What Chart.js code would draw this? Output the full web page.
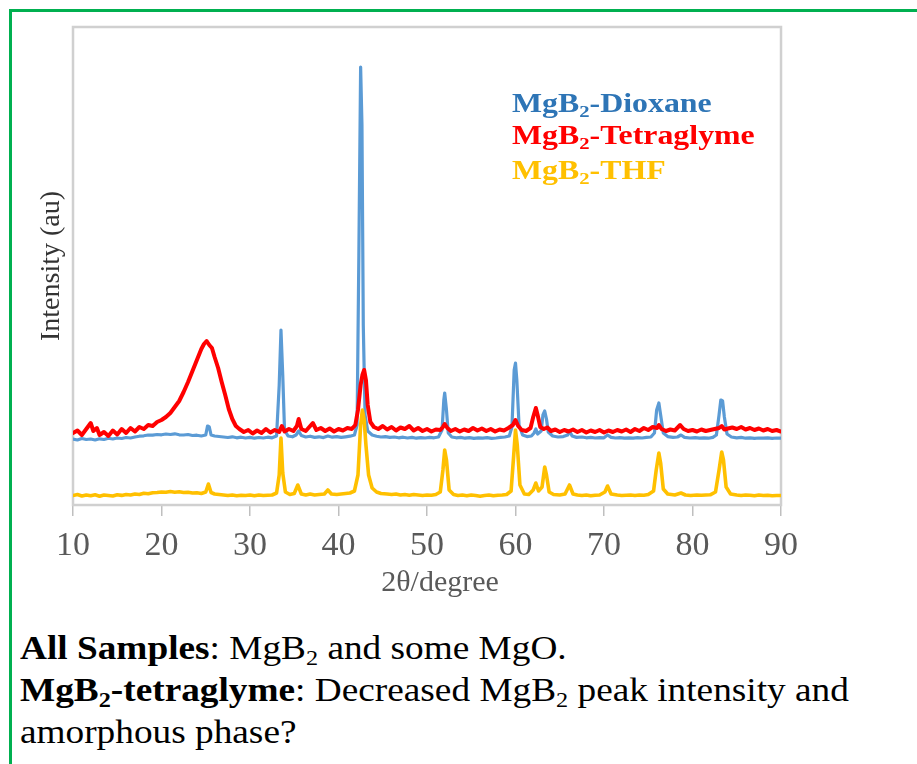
<!DOCTYPE html>
<html>
<head>
<meta charset="utf-8">
<script src="https://cdn.jsdelivr.net/npm/chart.js@4.4.1/dist/chart.umd.min.js"></script>
<style>
  html, body { margin: 0; padding: 0; background: #fff; width: 917px; height: 764px; overflow: hidden; }
  #frame { position: absolute; left: 9px; top: 9px; width: 940px; height: 800px; border: 3px solid #00b050; box-sizing: border-box; }
  #wrap { position: absolute; left: 0; top: 0; width: 917px; height: 620px; }
  .legend { position: absolute; left: 512px; font: bold 27px "Liberation Serif", serif; line-height: 33px; white-space: nowrap; transform-origin: 0 0; transform: scaleX(1.18); }
  .note { position: absolute; left: 20px; font: 33px "Liberation Serif", serif; line-height: 40px; white-space: nowrap; color: #000; transform-origin: 0 0; transform: scaleX(1.13); }
  sub { font-size: 0.65em; vertical-align: -0.3em; line-height: 0; }
</style>
</head>
<body>
<div id="frame"></div>
<div id="wrap"><canvas id="xrd" width="917" height="620"></canvas></div>

<div class="legend" style="top:87px;color:#2e75b6">MgB<sub>2</sub>-Dioxane</div>
<div class="legend" style="top:119px;color:#ff0000">MgB<sub>2</sub>-Tetraglyme</div>
<div class="legend" style="top:154px;color:#ffc000">MgB<sub>2</sub>-THF</div>

<div class="note" style="top:628px"><b>All Samples</b>: MgB<sub>2</sub> and some MgO.</div>
<div class="note" style="top:670px"><b>MgB<sub>2</sub>-tetraglyme</b>: Decreased MgB<sub>2</sub> peak intensity and</div>
<div class="note" style="top:712px">amorphous phase?</div>

<script>
// X-ray diffraction patterns of MgB2 samples prepared in three solvents (offset traces, arbitrary units)
const xTicks = [10, 20, 30, 40, 50, 60, 70, 80, 90];

const dioxaneTheta = [
  10, 10.5, 11, 11.5, 12, 12.5, 13, 13.5, 14, 14.5, 15, 15.5, 16, 16.5, 17, 17.5, 18, 18.5, 19, 19.5,
  20, 20.5, 21, 21.5, 22, 22.5, 23, 23.5, 24, 24.5, 25.0, 25.2, 25.4, 25.6, 26, 26.5, 27, 27.5, 28, 28.5,
  29, 29.5, 30, 30.5, 31, 31.5, 32, 32.5, 33.0, 33.3, 33.5, 33.7, 33.9, 34.3, 34.8, 35.2, 35.5, 35.8, 36.3, 36.8,
  37.3, 37.8, 38.3, 38.8, 39.3, 39.8, 40.3, 40.8, 41.3, 41.8, 42.1, 42.3, 42.5, 42.65, 42.8, 43.0, 43.3, 43.8, 44.3, 44.8,
  45.3, 45.8, 46.3, 46.8, 47.3, 47.8, 48.3, 48.8, 49.3, 49.8, 50.3, 50.8, 51.3, 51.7, 51.9, 52.0, 52.2, 52.4, 52.8, 53.3,
  53.8, 54.3, 54.8, 55.3, 55.8, 56.3, 56.8, 57.3, 57.8, 58.3, 58.8, 59.3, 59.6, 59.85, 60.0, 60.15, 60.4, 60.8, 61.3, 61.8,
  62.1, 62.3, 62.5, 62.9, 63.1, 63.3, 63.5, 63.7, 64.2, 64.8, 65.4, 65.9, 66.1, 66.4, 66.9, 67.5, 68, 68.5, 69, 69.5,
  70, 70.4, 70.8, 71.3, 71.8, 72.3, 72.8, 73.3, 73.8, 74.3, 74.8, 75.3, 75.7, 75.95, 76.2, 76.4, 76.7, 77.2, 77.8, 78.3,
  78.7, 79.1, 79.7, 80.3, 80.8, 81.3, 81.8, 82.3, 82.7, 83.0, 83.2, 83.4, 83.6, 83.9, 84.4, 85, 85.5, 86, 86.5, 87,
  87.5, 88, 88.5, 89, 89.5, 90
];
const dioxaneCounts = [
  660, 650, 665, 655, 660, 650, 662, 655, 668, 660, 670, 665, 675, 670, 680, 688, 692, 700, 698, 705,
  702, 710, 705, 712, 702, 700, 705, 695, 698, 690, 700, 790, 780, 700, 690, 685, 680, 675, 682, 672,
  678, 670, 676, 668, 675, 670, 678, 672, 690, 1200, 1750, 1300, 750, 690, 682, 700, 740, 695, 680, 688,
  676, 682, 674, 690, 678, 684, 676, 682, 688, 700, 800, 2500, 4380, 3800, 1800, 900, 740, 700, 688, 680,
  684, 676, 680, 672, 678, 670, 676, 668, 674, 670, 676, 672, 680, 750, 1050, 1120, 950, 720, 680, 672,
  676, 668, 674, 666, 672, 668, 674, 666, 670, 676, 680, 690, 780, 1350, 1420, 1250, 800, 700, 684, 690,
  720, 760, 710, 740, 900, 940, 860, 730, 690, 680, 684, 700, 740, 690, 676, 680, 672, 676, 670, 674,
  672, 700, 676, 670, 674, 668, 672, 668, 674, 670, 676, 680, 720, 950, 1020, 900, 720, 684, 676, 680,
  700, 676, 670, 674, 668, 672, 668, 676, 700, 900, 1050, 1040, 880, 710, 680, 672, 676, 668, 672, 666,
  670, 668, 672, 666, 670, 668
];

const tetraglymeTheta = [
  10, 10.5, 11, 11.5, 12.0, 12.3, 12.7, 13, 13.5, 14, 14.5, 15, 15.5, 16, 16.5, 17, 17.5, 18, 18.5, 19,
  19.5, 20, 20.5, 21, 21.5, 22, 22.5, 23, 23.5, 24, 24.5, 24.8, 25.1, 25.4, 25.7, 26, 26.4, 26.8, 27.2, 27.6,
  28, 28.4, 28.8, 29.3, 29.8, 30.3, 30.8, 31.3, 31.8, 32.3, 32.8, 33.3, 33.6, 33.9, 34.4, 34.9, 35.3, 35.5, 35.8, 36.3,
  36.8, 37.1, 37.5, 38, 38.5, 39, 39.5, 40, 40.5, 41, 41.5, 41.9, 42.2, 42.5, 42.7, 42.9, 43.1, 43.3, 43.6, 44,
  44.5, 45, 45.5, 46, 46.5, 47, 47.5, 48, 48.5, 49, 49.5, 50, 50.5, 51, 51.5, 51.8, 52.0, 52.3, 52.7, 53.2,
  53.7, 54.2, 54.7, 55.2, 55.7, 56.2, 56.7, 57.2, 57.7, 58.2, 58.7, 59.2, 59.7, 60.0, 60.3, 60.7, 61.2, 61.7, 62.0, 62.3,
  62.5, 62.8, 63.2, 63.6, 64, 64.5, 65, 65.5, 66, 66.5, 67, 67.5, 68, 68.5, 69, 69.5, 70, 70.5, 71, 71.5,
  72, 72.5, 73, 73.5, 74, 74.5, 75, 75.5, 76.0, 76.2, 76.5, 77, 77.5, 78, 78.6, 79, 79.5, 80, 80.5, 81,
  81.5, 82, 82.5, 83.0, 83.3, 83.6, 84, 84.5, 85, 85.5, 86, 86.5, 87, 87.5, 88, 88.5, 89, 89.5, 90
];
const tetraglymeCounts = [
  720, 745, 700, 760, 820, 740, 770, 700, 730, 690, 745, 705, 760, 720, 770, 735, 780, 760, 800, 790,
  830, 850, 880, 920, 980, 1040, 1130, 1230, 1340, 1450, 1560, 1610, 1640, 1600, 1570, 1480, 1370, 1230, 1100, 960,
  860, 790, 760, 730, 750, 715, 745, 720, 760, 725, 750, 730, 790, 735, 760, 740, 790, 860, 760, 740,
  790, 820, 750, 770, 740, 765, 735, 760, 745, 770, 760, 800, 950, 1200, 1300, 1350, 1250, 1000, 830, 780,
  760, 790, 755, 780, 745, 775, 760, 790, 745, 770, 740, 760, 735, 755, 750, 780, 810, 770, 740, 760,
  735, 755, 740, 770, 745, 765, 740, 760, 735, 755, 745, 770, 800, 850, 790, 750, 740, 770, 880, 970,
  900, 780, 760, 775, 740, 755, 730, 750, 735, 755, 730, 750, 725, 745, 730, 750, 725, 745, 730, 750,
  735, 755, 730, 760, 740, 770, 750, 780, 770, 800, 760, 740, 755, 745, 800, 760, 740, 750, 735, 755,
  740, 750, 760, 770, 790, 755, 765, 775, 760, 780, 755, 770, 750, 765, 745, 760, 740, 750, 735
];

const thfTheta = [
  10, 10.5, 11, 11.5, 12, 12.5, 13, 13.5, 14, 14.5, 15, 15.5, 16, 16.5, 17, 17.5, 18, 18.5, 19, 19.5,
  20, 20.5, 21, 21.5, 22, 22.5, 23, 23.5, 24, 24.5, 25.0, 25.3, 25.6, 26, 26.5, 27, 27.5, 28, 28.5, 29,
  29.5, 30, 30.5, 31, 31.5, 32, 32.5, 33.0, 33.3, 33.5, 33.7, 34.0, 34.5, 35.0, 35.4, 35.8, 36.3, 36.8, 37.3, 37.8,
  38.4, 38.8, 39.2, 39.8, 40.3, 40.8, 41.3, 41.8, 42.2, 42.5, 42.7, 42.9, 43.1, 43.4, 43.8, 44.3, 44.8, 45.5, 46, 46.5,
  47, 47.5, 48, 48.5, 49, 49.5, 50, 50.5, 51, 51.5, 51.8, 52.0, 52.2, 52.5, 53, 53.5, 54, 54.5, 55, 55.5,
  56, 56.5, 57, 57.5, 58, 58.5, 59, 59.5, 59.8, 60.0, 60.2, 60.5, 61, 61.5, 62.0, 62.3, 62.6, 63.0, 63.3, 63.5,
  63.8, 64.3, 65, 65.6, 66.1, 66.5, 67, 67.5, 68, 68.5, 69, 69.5, 70.1, 70.4, 70.8, 71.5, 72, 72.5, 73, 73.5,
  74, 74.5, 75, 75.6, 75.9, 76.2, 76.4, 76.7, 77.2, 78, 78.7, 79.2, 79.8, 80.5, 81, 81.5, 82, 82.6, 83.0, 83.3,
  83.5, 83.8, 84.3, 85, 85.5, 86, 86.5, 87, 87.5, 88, 88.5, 89, 89.5, 90
];
const thfCounts = [
  95, 105, 90, 100, 92, 102, 88, 100, 95, 90, 102, 96, 105, 100, 110, 105, 118, 112, 122, 125,
  130, 128, 135, 128, 132, 125, 128, 120, 122, 115, 130, 210, 125, 110, 105, 100, 95, 100, 92, 98,
  95, 100, 92, 100, 95, 98, 100, 120, 300, 670, 320, 130, 105, 115, 200, 110, 100, 110, 100, 105,
  110, 150, 110, 105, 110, 115, 120, 140, 300, 800, 950, 850, 600, 300, 170, 130, 115, 110, 105, 110,
  100, 105, 98, 105, 100, 95, 100, 98, 105, 130, 350, 550, 450, 150, 105, 95, 100, 92, 100, 95,
  88, 95, 100, 92, 98, 100, 105, 140, 500, 750, 600, 200, 110, 105, 150, 220, 140, 180, 380, 300,
  130, 105, 100, 110, 200, 110, 100, 95, 100, 92, 98, 100, 130, 190, 110, 100, 95, 98, 100, 95,
  100, 98, 105, 140, 350, 520, 420, 160, 110, 100, 120, 100, 95, 100, 98, 100, 102, 130, 350, 530,
  450, 180, 110, 100, 95, 100, 98, 92, 100, 95, 98, 92, 95, 95
];

const seriesNames = ['MgB\u2082-Dioxane', 'MgB\u2082-Tetraglyme', 'MgB\u2082-THF'];
const seriesColors = ['#5b9bd5', '#ff0000', '#ffc000'];
const seriesWidths = [3.2, 4, 3.6];

const toPoints = (xs, ys) => xs.map((x, i) => ({ x, y: ys[i] }));

// Light grey box round the plotting area
const plotFrame = {
  id: 'plotFrame',
  beforeDatasetsDraw(chart) {
    const { ctx, chartArea: a } = chart;
    ctx.save();
    ctx.strokeStyle = '#d0d0d0';
    ctx.lineWidth = 2.5;
    ctx.strokeRect(a.left, a.top, a.right - a.left, a.bottom - a.top);
    ctx.restore();
  }
};

// x-axis caption, set slightly right of the plot centre
const xCaption = {
  id: 'xCaption',
  afterDraw(chart) {
    const { ctx, chartArea: a } = chart;
    ctx.save();
    ctx.font = '30px "Liberation Serif", serif';
    ctx.fillStyle = '#595959';
    ctx.textAlign = 'center';
    ctx.textBaseline = 'alphabetic';
    ctx.fillText('2\u03b8/degree', (a.left + a.right) / 2 + 13, a.bottom + 86);
    ctx.restore();
  }
};

const serif = '"Liberation Serif", "Times New Roman", serif';

new Chart(document.getElementById('xrd'), {
  type: 'scatter',
  data: {
    datasets: [
      { label: seriesNames[0], data: toPoints(dioxaneTheta, dioxaneCounts), borderColor: seriesColors[0], borderWidth: seriesWidths[0], order: 3 },
      { label: seriesNames[1], data: toPoints(tetraglymeTheta, tetraglymeCounts), borderColor: seriesColors[1], borderWidth: seriesWidths[1], order: 2 },
      { label: seriesNames[2], data: toPoints(thfTheta, thfCounts), borderColor: seriesColors[2], borderWidth: seriesWidths[2], order: 1 }
    ].map(d => Object.assign(d, {
      showLine: true, pointRadius: 0, tension: 0,
      borderJoinStyle: 'round', borderCapStyle: 'round', backgroundColor: d.borderColor
    }))
  },
  options: {
    responsive: false,
    animation: false,
    layout: { padding: { top: 27, right: 136, left: 0, bottom: 0 } },
    plugins: { legend: { display: false }, tooltip: { enabled: false } },
    scales: {
      x: {
        type: 'linear', min: 10, max: 90,
        afterBuildTicks: s => { s.ticks = xTicks.map(v => ({ value: v })); },
        afterFit: s => { s.height = 115; },
        ticks: { color: '#595959', font: { family: serif, size: 34 }, padding: 10, maxRotation: 0 },
        grid: { drawOnChartArea: false, drawTicks: true, tickLength: 11, color: '#bfbfbf', lineWidth: 1.5 },
        border: { display: false },
        title: { display: false }
      },
      y: {
        min: 0, max: 4780,
        afterFit: s => { s.width = 73; },
        ticks: { display: false },
        grid: { display: false },
        border: { display: false },
        title: { display: true, text: 'Intensity (au)', color: '#333333', font: { family: serif, size: 28 }, padding: { top: 35, bottom: 0 } }
      }
    }
  },
  plugins: [plotFrame, xCaption]
});
</script>
</body>
</html>
